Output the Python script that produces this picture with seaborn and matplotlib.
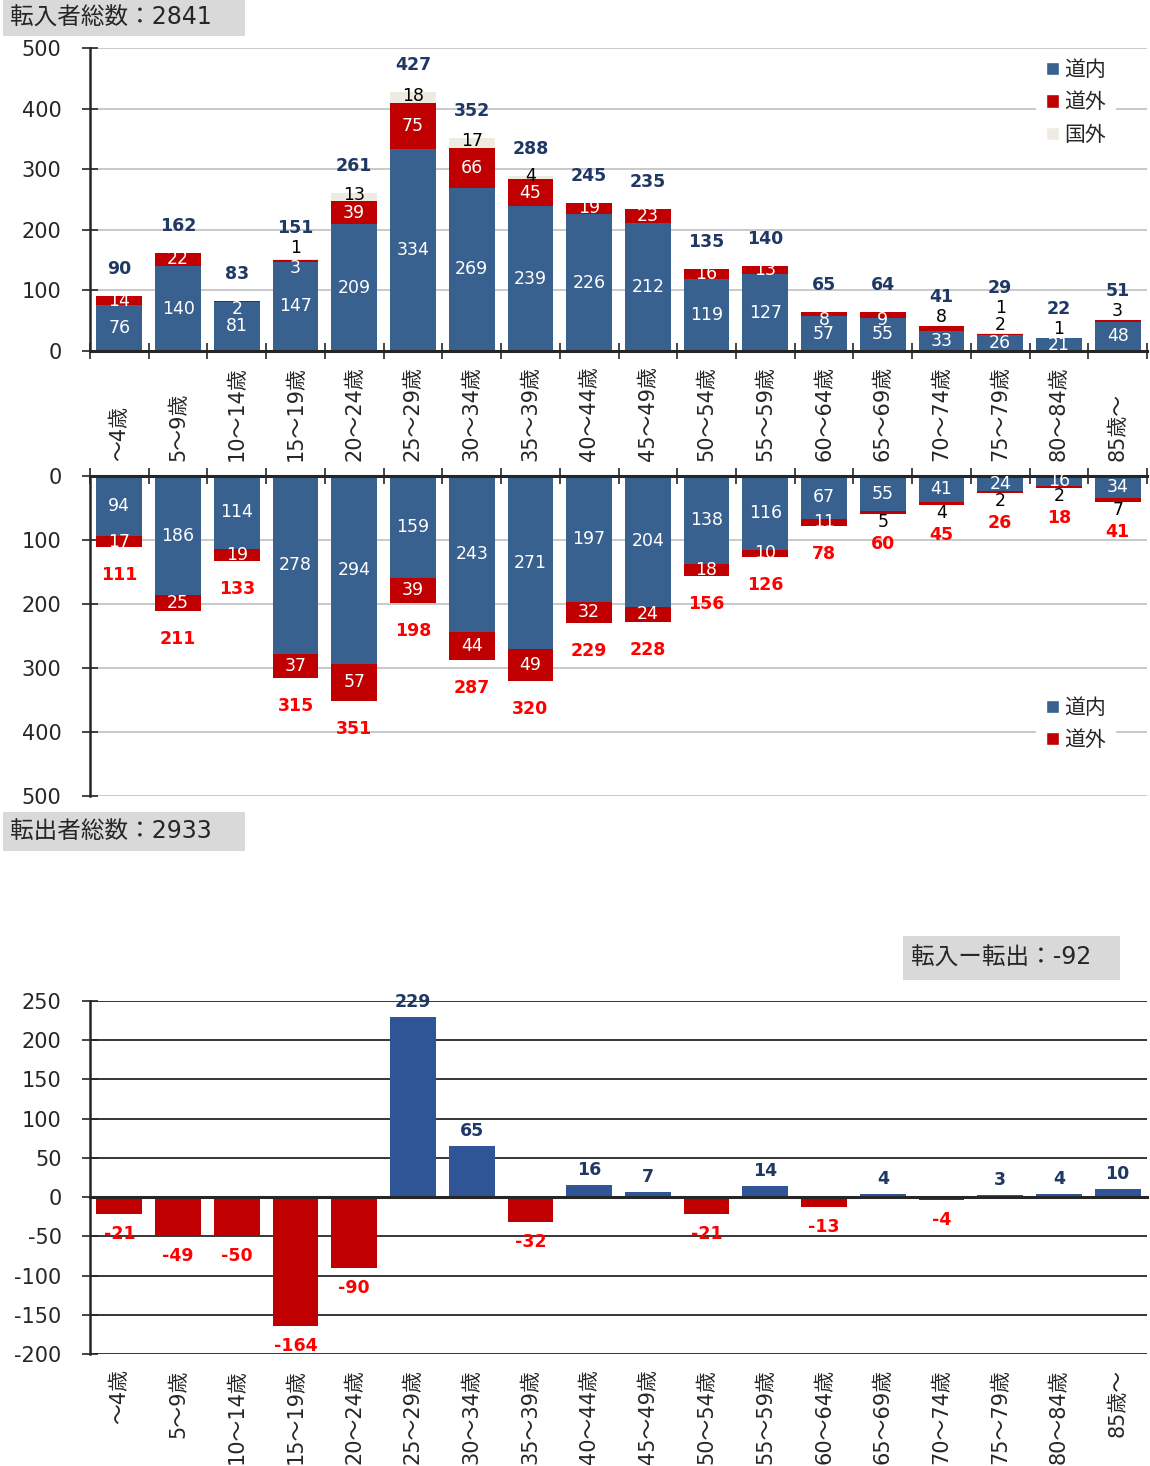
import matplotlib
matplotlib.use("Agg")
import matplotlib.pyplot as plt
from matplotlib.patches import Patch, Rectangle
import numpy as np
import seaborn as sns

# age groups
ages = ["～4歳", "5～9歳", "10～14歳", "15～19歳", "20～24歳", "25～29歳",
        "30～34歳", "35～39歳", "40～44歳", "45～49歳", "50～54歳", "55～59歳",
        "60～64歳", "65～69歳", "70～74歳", "75～79歳", "80～84歳", "85歳～"]

# in-migration (転入)
in_dounai = [76, 140, 81, 147, 209, 334, 269, 239, 226, 212, 119, 127, 57, 55, 33, 26, 21, 48]
in_dougai = [14, 22, 2, 3, 39, 75, 66, 45, 19, 23, 16, 13, 8, 9, 8, 2, 1, 3]
in_kokugai = [0, 0, 0, 1, 13, 18, 17, 4, 0, 0, 0, 0, 0, 0, 0, 1, 0, 0]

# out-migration (転出)
out_dounai = [94, 186, 114, 278, 294, 159, 243, 271, 197, 204, 138, 116, 67, 55, 41, 24, 16, 34]
out_dougai = [17, 25, 19, 37, 57, 39, 44, 49, 32, 24, 18, 10, 11, 5, 4, 2, 2, 7]

legend_in = ["道内", "道外", "国外"]
legend_out = ["道内", "道外"]

BLUE = "#38618F"
RED = "#C00000"
BEIGE = "#EEECE1"
NAVY = "#1F3864"
LABEL_RED = "#FF0000"
NET_BLUE = "#2F5597"
BOX_GRAY = "#D9D9D9"

W, H = 1150, 1466
PX = 0.72  # points per pixel at dpi 100

sns.set_style("white")
plt.rcParams["font.family"] = ["DejaVu Sans", "Noto Sans CJK JP"]
plt.rcParams["axes.unicode_minus"] = False

in_dounai = np.array(in_dounai)
in_dougai = np.array(in_dougai)
in_kokugai = np.array(in_kokugai)
out_dounai = np.array(out_dounai)
out_dougai = np.array(out_dougai)
in_total = in_dounai + in_dougai + in_kokugai
out_total = out_dounai + out_dougai
net = in_total - out_total
n = len(ages)
xs = np.arange(n)
bounds = np.arange(n + 1) - 0.5


def ax_rect(top_px, bottom_px, left_px=90, right_px=1147):
    return [left_px / W, 1 - bottom_px / H, (right_px - left_px) / W, (bottom_px - top_px) / H]


def put(ax, x, y, s, color, off_px=0, bold=False, size=12.5):
    ax.annotate(s, (x, y), xytext=(0, off_px * PX), textcoords="offset points",
                ha="center", va="center", color=color, fontsize=size,
                fontweight="bold" if bold else "normal", zorder=5)


def bars(ax, y, color, width=0.78):
    sns.barplot(x=ages, y=y, color=color, saturation=1, width=width,
                errorbar=None, ax=ax, linewidth=0)


def style_axis(ax):
    ax.set_xlim(-0.5, n - 0.5)
    ax.set_xlabel("")
    ax.set_ylabel("")
    ax.set_axisbelow(True)
    ax.set_xticks(xs)
    ax.set_xticks(bounds, minor=True)
    ax.tick_params(axis="y", direction="inout", length=11, width=1.2,
                   labelsize=15, pad=15, left=True)
    ax.tick_params(axis="x", which="minor", direction="inout", length=11, width=1.2)
    ax.tick_params(axis="x", which="major", length=0)
    ax.spines["left"].set_linewidth(1.8)
    ax.spines["right"].set_visible(False)


def title_box(x0, y0, x1, y1, text, tx):
    fig.patches.append(Rectangle((x0 / W, 1 - y1 / H), (x1 - x0) / W, (y1 - y0) / H,
                                 transform=fig.transFigure, facecolor=BOX_GRAY,
                                 edgecolor="none", zorder=0))
    fig.text(tx / W, 1 - (y0 + y1) / 2 / H, text, ha="left", va="center", fontsize=17)


fig = plt.figure(figsize=(W / 100, H / 100), dpi=100)

# ---------------- in-migration ----------------
ax1 = fig.add_axes(ax_rect(48, 351))
bars(ax1, in_total, BEIGE)
bars(ax1, in_dounai + in_dougai, RED)
bars(ax1, in_dounai, BLUE)
style_axis(ax1)
ax1.set_ylim(0, 500)
ax1.set_yticks(range(0, 501, 100))
ax1.yaxis.grid(True, color="#C0C0C0", linewidth=1.2)
ax1.spines["top"].set_visible(False)
ax1.spines["bottom"].set_linewidth(2.2)
ax1.tick_params(axis="x", which="both", labelbottom=False, bottom=True)

for i in range(n):
    put(ax1, i, in_dounai[i] / 2, str(in_dounai[i]), "white")
    red_top = in_dounai[i] + in_dougai[i]
    stack = 0
    if in_dougai[i] >= 10:
        put(ax1, i, in_dounai[i] + in_dougai[i] / 2, str(in_dougai[i]), "white")
    elif in_total[i] <= 55:
        put(ax1, i, red_top, str(in_dougai[i]), "black", off_px=9)
        stack = 9
    else:
        put(ax1, i, red_top, str(in_dougai[i]), "white", off_px=-8)
    if in_kokugai[i] >= 4:
        put(ax1, i, red_top + in_kokugai[i] / 2, str(in_kokugai[i]), "black", off_px=2)
    elif in_kokugai[i] > 0:
        stack = stack + 16 if stack else 11
        put(ax1, i, in_total[i], str(in_kokugai[i]), "black", off_px=stack)
    off = max(27, stack + 20) if stack else 27
    put(ax1, i, in_total[i], str(in_total[i]), NAVY, off_px=off, bold=True)

leg_kw = dict(fontsize=15, handlelength=0.6, handleheight=0.6, handletextpad=0.25,
              labelspacing=0.6, borderpad=0.5, borderaxespad=0, frameon=True,
              fancybox=False, facecolor="white", edgecolor="none", framealpha=1)
ax1.legend([Patch(facecolor=c) for c in (BLUE, RED, BEIGE)], legend_in,
           loc="upper left", bbox_to_anchor=(0.895, 0.995), **leg_kw)

# ---------------- out-migration ----------------
ax2 = fig.add_axes(ax_rect(476, 796))
bars(ax2, out_total, RED)
bars(ax2, out_dounai, BLUE)
style_axis(ax2)
ax2.set_ylim(500, 0)
ax2.set_yticks(range(0, 501, 100))
ax2.yaxis.grid(True, color="#C0C0C0", linewidth=1.2)
ax2.spines["bottom"].set_visible(False)
ax2.spines["top"].set_linewidth(2.2)
ax2.xaxis.set_ticks_position("top")
ax2.set_xticks(xs, ages)
ax2.tick_params(axis="x", which="major", labeltop=True, labelbottom=False,
                labelsize=15, labelrotation=90, pad=11, length=0)
ax2.tick_params(axis="x", which="minor", top=True, bottom=False)

for i in range(n):
    put(ax2, i, out_dounai[i] / 2, str(out_dounai[i]), "white")
    small = 0
    if out_dougai[i] >= 10:
        put(ax2, i, out_dounai[i] + out_dougai[i] / 2, str(out_dougai[i]), "white")
    else:
        put(ax2, i, out_total[i], str(out_dougai[i]), "black", off_px=-8)
        small = 8
    off = max(28, small + 22)
    put(ax2, i, out_total[i], str(out_total[i]), LABEL_RED, off_px=-off, bold=True)

ax2.legend([Patch(facecolor=c) for c in (BLUE, RED)], legend_out,
           loc="upper left", bbox_to_anchor=(0.895, 0.34), **leg_kw)

# ---------------- net ----------------
ax3 = fig.add_axes(ax_rect(1001, 1354))
net_colors = [NET_BLUE if v >= 0 else RED for v in net]
sns.barplot(x=ages, y=net, hue=ages, palette=net_colors, saturation=1, width=0.78,
            errorbar=None, legend=False, ax=ax3, linewidth=0)
style_axis(ax3)
ax3.set_ylim(-200, 250)
ax3.set_yticks(range(-200, 251, 50))
ax3.yaxis.grid(True, color="#262626", linewidth=1.3)
ax3.spines["top"].set_visible(False)
ax3.spines["bottom"].set_position(("data", 0))
ax3.spines["bottom"].set_linewidth(2.2)
ax3.tick_params(axis="x", which="both", labelbottom=False)
sec = ax3.secondary_xaxis("bottom")
sec.set_xticks(xs, ages)
sec.tick_params(length=0, labelsize=15, labelrotation=90, pad=11)
sec.spines["bottom"].set_visible(False)

for i, v in enumerate(net):
    if v >= 0:
        put(ax3, i, v, str(v), NAVY, off_px=15, bold=True)
    else:
        put(ax3, i, v, str(v), LABEL_RED, off_px=-20, bold=True)

# ---------------- summary boxes ----------------
title_box(3, 0, 245, 36, f"転入者総数：{in_total.sum()}", 10)
title_box(3, 812, 245, 851, f"転出者総数：{out_total.sum()}", 10)
title_box(903, 936, 1120, 980, f"転入ー転出：{net.sum()}", 911)

fig.savefig("out.png", dpi=100)
